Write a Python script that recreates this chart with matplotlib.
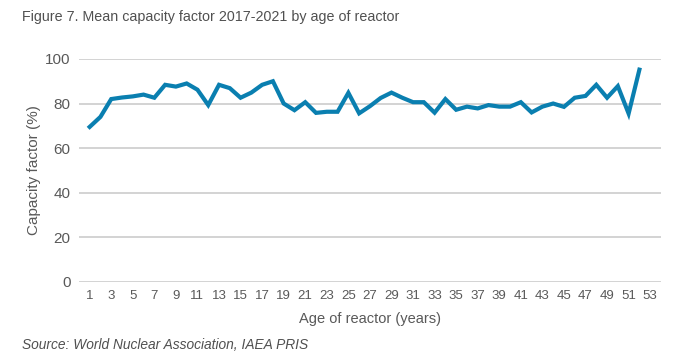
import matplotlib
matplotlib.use('Agg')
import matplotlib.pyplot as plt

ages = list(range(1, 53))
capacity = [69.5, 74, 82, 82.7, 83.2, 84, 82.6, 88.4, 87.6, 89, 86.2, 79.3,
            88.4, 86.9, 82.6, 84.9, 88.4, 90, 80, 77, 80.6, 75.8, 76.3, 76.3,
            84.8, 75.6, 78.8, 82.5, 84.9, 82.6, 80.6, 80.6, 75.9, 82, 77.2, 78.6,
            77.8, 79.3, 78.6, 78.6, 80.6, 76, 78.6, 80, 78.5, 82.6, 83.4, 88.4,
            82.6, 87.8, 75.5, 95.2]
xticks = list(range(1, 54, 2))
yticks = [0, 20, 40, 60, 80, 100]

plt.rcParams['font.family'] = ['Liberation Sans', 'DejaVu Sans']

fig = plt.figure(figsize=(6.8, 3.64), dpi=100)
ax = fig.add_axes([0.116, 0.226, 0.856, 0.612])

ax.plot(ages, capacity, color='#0a7fb0', lw=3.0, solid_joinstyle='miter', zorder=3)

ax.set_xlim(0, 54)
ax.set_ylim(0, 100)
ax.set_xticks(xticks)
ax.set_yticks(yticks)
ax.tick_params(axis='x', length=0, labelsize=9.5, labelcolor='#595959', pad=6)
ax.tick_params(axis='y', length=0, labelsize=11, labelcolor='#595959', pad=6)
ax.grid(axis='y', color='#cccccc', lw=1.2, zorder=1)
for s in ax.spines.values():
    s.set_visible(False)

ax.set_ylabel('Capacity factor (%)', fontsize=11, color='#595959', labelpad=3)
ax.set_xlabel('Age of reactor (years)', fontsize=10.5, color='#595959', labelpad=7)

fig.text(22 / 680, 1 - 17 / 364, 'Figure 7. Mean capacity factor 2017-2021 by age of reactor',
         fontsize=10.3, color='#505050', va='center', ha='left')
fig.text(22 / 680, 1 - 345 / 364, 'Source: World Nuclear Association, IAEA PRIS',
         fontsize=9.9, color='#505050', style='italic', va='center', ha='left')

fig.savefig('out.png', dpi=100)
